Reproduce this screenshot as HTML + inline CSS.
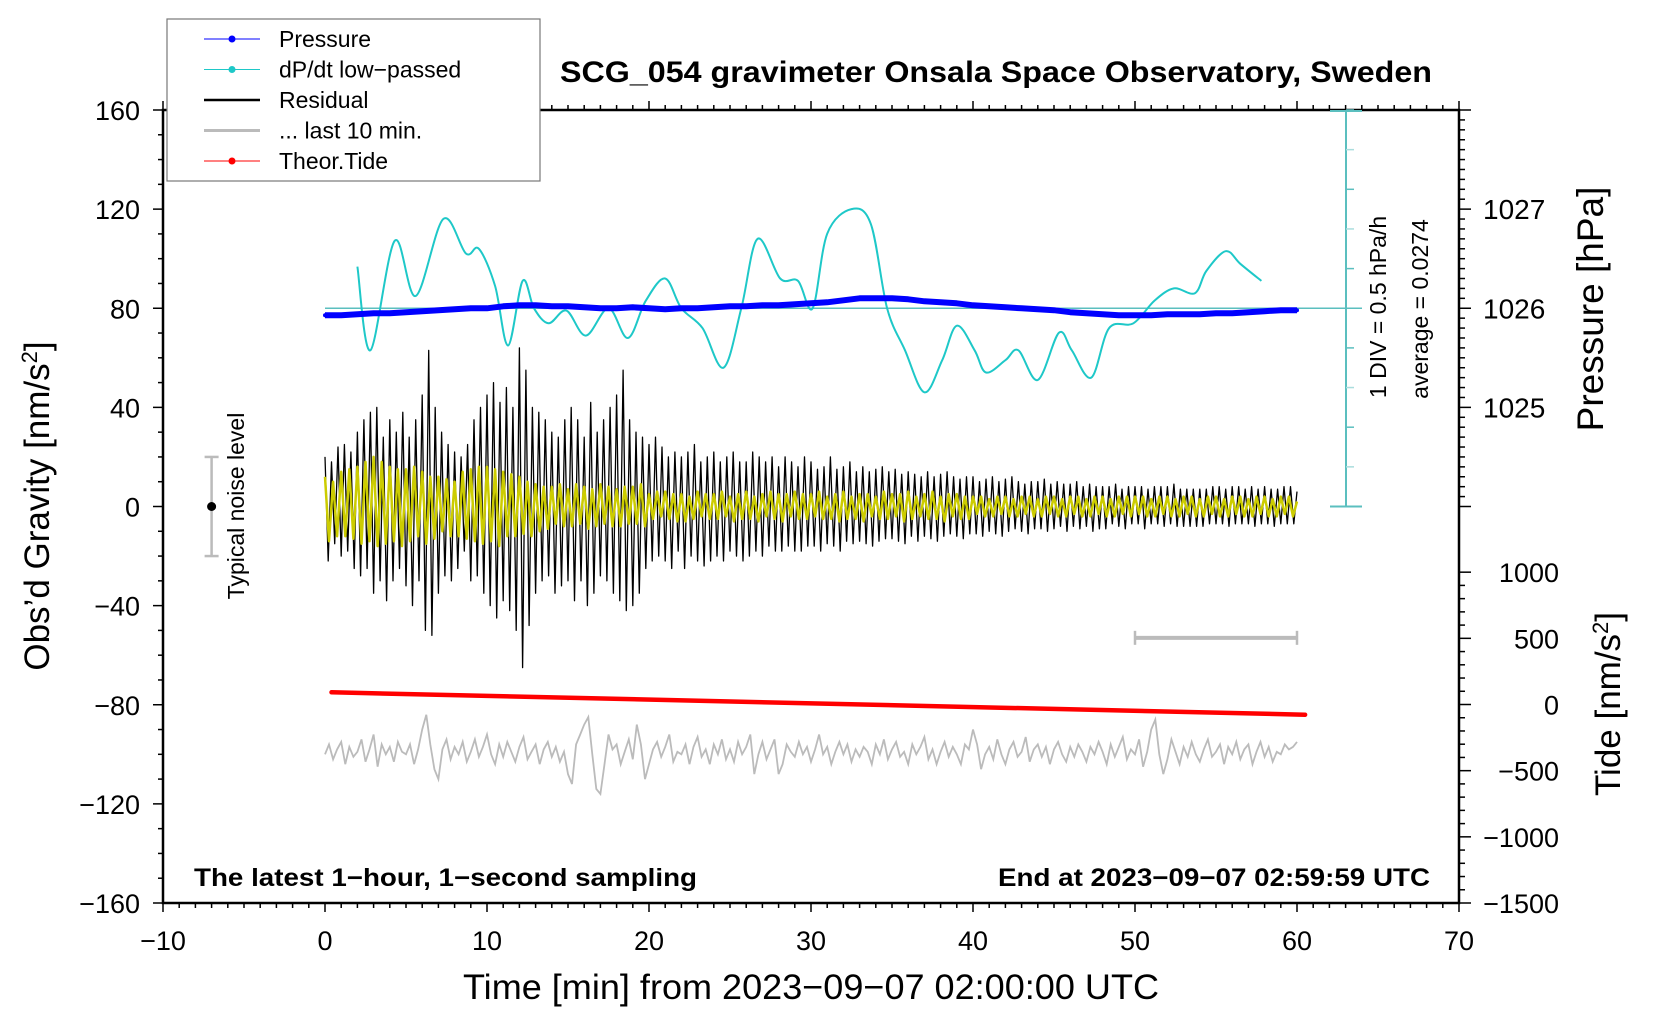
<!DOCTYPE html>
<html><head><meta charset="utf-8"><style>
html,body{margin:0;padding:0;background:#fff;}
svg{display:block;font-family:"Liberation Sans",Arial,sans-serif;}
</style></head><body>
<svg id="chart" width="1660" height="1020" viewBox="0 0 1660 1020" xmlns="http://www.w3.org/2000/svg">
<rect x="0" y="0" width="1660" height="1020" fill="#fff"/>
<g id="plot"></g>
</svg>
<script>
// ---- data ----
const residualStep = 0.2; // minutes
const residual = [
20,-22,18,-15,24, -20,25,-18,22,-25, 30,-28,35,-25,38, -35,40,-30,28,-38, 35,-30,30,-25,38,
-32,28,-40,35,-30, 45,-50,63,-52,40, -35,30,-28,25,-30, 22,-25,20,-18,25, -30,35,-28,40,-35,
45,-40,50,-45,42, -38,48,-42,40,-50, 64,-65,55,-48,40, -35,38,-30,35,-28, 30,-35,28,-32,35,
-30,40,-38,35,-30, 28,-40,42,-35,30, -28,35,-30,40,-35, 45,-38,55,-42,35, -40,30,-35,28,-25,
25,-22,28,-20,24, -22,20,-25,22,-18, 20,-25,22,-20,25, -22,18,-24,20,-22, 22,-20,18,-22,20,
-18,22,-20,18,-22, 18,-20,22,-18,20, -20,18,-16,20,-18, 16,-18,20,-16,18, -18,16,-18,20,-16,
18,-16,15,-18,16, -15,20,-16,15,-18, 16,-14,18,-15,14, -14,16,-15,14,-16, 15,-14,16,-13,14,
-13,15,-14,13,-15, 14,-12,13,-14,12, -12,14,-13,12,-14, 13,-12,14,-11,12, -12,11,-13,12,-11,
12,-11,10,-12,11, -10,12,-11,10,-12, 11,-10,12,-9,10, -10,9,-11,10,-9, 10,-9,11,-10,9,
-9,10,-8,9,-10, 9,-8,10,-9,8, -8,9,-10,8,-9, 8,-9,8,-7,9, -8,7,-9,8,-7,
8,-7,8,-9,7, -7,8,-7,8,-8, 8,-7,9,-8,7, -8,7,-8,7,-8, 7,-8,7,-7,8,
-7,8,-7,7,-8, 8,-7,8,-7,7, -7,8,-8,7,-7, 8,-7,7,-8,7, -7,8,-7,8,-7, 6];
const filteredStep = 0.25;
const filtered = [
12,-14,10,-12, 14,-12,15,-13, 16,-15,18,-14, 20,-16,18,-15, 16,-14,15,-16, 15,-14,16,-12,
14,-15,12,-13, 12,-10,11,-12, 10,-12,14,-13, 15,-14,16,-15, 16,-14,15,-16, 14,-12,13,-12,
12,-11,10,-12, 9,-10,8,-9, 8,-7,9,-8, 7,-8,9,-7, 8,-9,7,-8, 9,-7,8,-8, 7,-8,8,-7, 8,-7,9,-8,
5,-5,6,-4, 6,-5,5,-6, 5,-6,4,-5, 6,-4,5,-5, 5,-5,6,-4, 4,-6,5,-5, 6,-5,4,-6, 5,-4,6,-5, 5,-6,5,-4, 6,-5,5,-5,
5,-4,6,-5, 4,-5,5,-6, 6,-5,4,-5, 5,-6,5,-4, 4,-5,6,-5, 5,-4,5,-6, 6,-5,4,-4, 5,-5,6,-5, 4,-6,5,-4, 5,-5,4,-5,
4,-3,4,-4, 3,-4,4,-3, 4,-4,3,-4, 4,-3,4,-4, 3,-4,4,-3, 4,-4,3,-4, 4,-3,4,-4, 3,-4,4,-3, 4,-4,3,-4, 4,-3,4,-4,
4,-3,4,-4, 3,-4,4,-3, 4,-4,3,-4, 4,-3,4,-4, 3,-4,4,-3, 4,-4,3,-4, 4,-3,4,-4, 3,-4,4,-3, 4,-4,3,-4, 4,-3,4,-4, 2];
const last10Step = 0.25;
const last10 = [
-100,-96,-102,-98, -95,-104,-97,-101, -99,-94,-103,-98, -92,-105,-96,-100, -97,-103,-95,-99,
-100,-96,-104,-98, -90,-84,-96,-106, -110,-98,-94,-102, -97,-100,-95,-103, -99,-94,-101,-97,
-92,-100,-104,-96, -101,-95,-99,-103, -97,-93,-102,-99, -96,-104,-98,-95, -101,-97,-103,-99,
-108,-112,-96,-92, -88,-85,-100,-114, -116,-104,-92,-98, -96,-104,-99,-94, -102,-88,-96,-110,
-104,-98,-95,-101, -97,-92,-103,-99, -100,-96,-104,-97, -93,-101,-98,-104, -96,-100,-94,-102,
-98,-103,-95,-100, -97,-92,-108,-100, -95,-102,-98,-94, -108,-104,-96,-99, -101,-95,-100,-97,
-103,-98,-92,-100, -97,-104,-99,-95, -100,-96,-103,-98, -101,-97,-99,-104, -96,-100,-94,-102,
-98,-95,-101,-99, -104,-96,-100,-97, -93,-102,-98,-104, -99,-95,-101,-97, -100,-104,-96,-98,
-90,-96,-106,-100, -97,-102,-94,-100, -104,-98,-95,-101, -99,-93,-103,-98, -96,-101,-97,-104,
-98,-95,-100,-103, -97,-101,-96,-99, -103,-97,-100,-95, -99,-104,-96,-101, -97,-93,-102,-98,
-100,-94,-105,-99, -90,-86,-100,-108, -102,-94,-99,-104, -97,-101,-95,-100, -103,-98,-94,-101,
-99,-96,-104,-97, -100,-95,-102,-98, -96,-104,-99,-95, -101,-97,-103,-99, -100,-96,-98,-97, -95];
const pressureMin = [0,1,2,3,4,5,6,7,8,9,10,11,12,13,14,15,16,17,18,19,20,21,22,23,24,25,26,27,28,29,30,31,32,33,34,35,36,37,38,39,40,41,42,43,44,45,46,47,48,49,50,51,52,53,54,55,56,57,58,59,60];
const pressure = [1025.93,1025.93,1025.94,1025.95,1025.95,1025.96,1025.97,1025.98,1025.99,1026.0,1026.0,
1026.02,1026.03,1026.03,1026.02,1026.02,1026.01,1026.0,1026.0,1026.01,1026.0,
1025.99,1026.0,1026.0,1026.01,1026.02,1026.02,1026.03,1026.03,1026.04,1026.05,
1026.06,1026.08,1026.1,1026.1,1026.1,1026.09,1026.07,1026.06,1026.05,1026.03,
1026.02,1026.01,1026.0,1025.99,1025.98,1025.96,1025.95,1025.94,1025.93,1025.93,
1025.93,1025.94,1025.94,1025.94,1025.95,1025.95,1025.96,1025.97,1025.98,1025.98];
const dpdtMin = [2.0,2.8,4.3,5.6,7.3,8.7,9.5,10.5,11.3,12.2,12.9,13.8,14.9,16.1,17.5,18.7,19.8,21.0,22.0,23.3,24.6,25.7,26.7,28.1,29.2,30.1,31.0,32.5,33.7,34.7,35.8,37.0,38.1,39.0,40.1,40.8,42.0,42.8,44.0,45.3,46.1,47.3,48.4,49.9,51.2,52.4,53.7,54.4,55.6,56.5,57.8];
const dpdtDiv = [1.05,-1.06,1.70,0.31,2.25,1.38,1.50,0.56,-0.94,0.69,0,-0.38,-0.06,-0.69,0,-0.75,0.19,0.75,0,-0.5,-1.5,0,1.75,0.75,0.69,0,1.88,2.5,2.12,0,-1.06,-2.12,-1.31,-0.44,-1.06,-1.62,-1.31,-1.06,-1.81,-0.62,-1.06,-1.75,-0.5,-0.38,0.19,0.5,0.38,0.94,1.44,1.12,0.69];
const tideMin = [0.4, 60.5];
const tide = [92, -77];
const xTicks = [-10,0,10,20,30,40,50,60,70];
const yTicks = [-160,-120,-80,-40,0,40,80,120,160];
const pTicks = [1025,1026,1027];
const tTicks = [-1500,-1000,-500,0,500,1000];

// ---- axes ----
const L=163,R=1459,T=110,B=903;
const X = m => L + (m+10)/80*(R-L);
const Y = g => B - (g+160)/320*(B-T);
const YP = p => Y(80 + (p-1026)*40);
const YT = t => Y(-79.9 + t*0.0534);
const YD = d => Y(80 + d*16);
const NS="http://www.w3.org/2000/svg";
const plot=document.getElementById('plot');
function el(tag,attrs,parent){const e=document.createElementNS(NS,tag);for(const k in attrs)e.setAttribute(k,attrs[k]);(parent||plot).appendChild(e);return e;}
function txt(s,attrs){const e=el('text',attrs);e.textContent=s;return e;}
function pts(xs,ys,fx,fy){return ys.map((v,i)=>fx(xs(i)).toFixed(1)+','+fy(v).toFixed(1)).join(' ');}

let e=el('rect',{x:L,y:T,width:R-L,height:B-T,fill:'none',stroke:'#000','stroke-width':2.5});



for(let m=-10;m<=70;m++){
  const major=m%10===0;
  el('line',{x1:X(m),x2:X(m),y1:B,y2:B+(major?9:5),stroke:'#000','stroke-width':1.5});
  el('line',{x1:X(m),x2:X(m),y1:T,y2:T-(major?9:5),stroke:'#000','stroke-width':1.5});
}
xTicks.forEach(v=>{const t=txt(String(v).replace('-','\u2212'),{x:X(v),y:950,'font-size':27,'text-anchor':'middle'});

});
for(let g=-160;g<=160;g+=10){const major=g%40===0;el('line',{x1:L,x2:L-(major?10:5),y1:Y(g),y2:Y(g),stroke:'#000','stroke-width':1.5});}
yTicks.forEach(v=>{const t=txt(String(v).replace('-','\u2212'),{x:140,y:Y(v)+10,'font-size':27,'text-anchor':'end'});

});
for(let p=1024;p<=1028.01;p+=0.1){const y=YP(p);if(y<T-1||y>507)continue;const major=Math.abs(p-Math.round(p))<0.01;el('line',{x1:R,x2:R+(major?12:6),y1:y,y2:y,stroke:'#000','stroke-width':1.5});}
pTicks.forEach(v=>{const t=txt(String(v),{x:1483,y:YP(v)+10,'font-size':28});

});
for(let t=-1500;t<=1000;t+=100){const major=t%500===0;el('line',{x1:R,x2:R+(major?12:6),y1:YT(t),y2:YT(t),stroke:'#000','stroke-width':1.5});}
tTicks.forEach(v=>{const t=txt(String(v).replace('-','\u2212'),{x:1559,y:YT(v)+10,'font-size':27,'text-anchor':'end'});

});

e=txt('SCG_054 gravimeter Onsala Space Observatory, Sweden',{x:560,y:82,'font-size':30,'font-weight':'bold',textLength:872,lengthAdjust:'spacingAndGlyphs'});

e=txt('Time [min] from 2023\u221209\u221207 02:00:00 UTC',{x:463,y:999,'font-size':35,textLength:696,lengthAdjust:'spacingAndGlyphs'});

e=el('text',{transform:'translate(49,506) rotate(-90)','font-size':35,'text-anchor':'middle'});
e.innerHTML='Obs\u2019d Gravity [nm/s<tspan dy="-12" font-size="22">2</tspan><tspan dy="12">]</tspan>';

e=el('text',{transform:'translate(1603,309) rotate(-90)','font-size':37,'text-anchor':'middle'});e.textContent='Pressure [hPa]';

e=el('text',{transform:'translate(1620,704) rotate(-90)','font-size':35,'text-anchor':'middle'});
e.innerHTML='Tide [nm/s<tspan dy="-12" font-size="22">2</tspan><tspan dy="12">]</tspan>';

e=txt('The latest 1\u2212hour, 1\u2212second sampling',{x:194,y:886,'font-size':25,'font-weight':'bold',textLength:503,lengthAdjust:'spacingAndGlyphs'});

e=txt('End at 2023\u221209\u221207 02:59:59 UTC',{x:998,y:886,'font-size':25,'font-weight':'bold',textLength:432,lengthAdjust:'spacingAndGlyphs'});

e=el('text',{transform:'translate(1386,307) rotate(-90)','font-size':23,'text-anchor':'middle'});e.textContent='1 DIV = 0.5 hPa/h';

e=el('text',{transform:'translate(1428,309) rotate(-90)','font-size':23,'text-anchor':'middle'});e.textContent='average = 0.0274';

e=el('text',{transform:'translate(244,506) rotate(-90)','font-size':23,'text-anchor':'middle'});e.textContent='Typical noise level';


e=el('g',{});
el('line',{x1:X(-7),x2:X(-7),y1:Y(-20),y2:Y(20),stroke:'#bbb','stroke-width':2.5},e);
el('line',{x1:X(-7)-7,x2:X(-7)+7,y1:Y(20),y2:Y(20),stroke:'#bbb','stroke-width':2.5},e);
el('line',{x1:X(-7)-7,x2:X(-7)+7,y1:Y(-20),y2:Y(-20),stroke:'#bbb','stroke-width':2.5},e);
el('circle',{cx:X(-7),cy:Y(0),r:4.5,fill:'#000'},e);

e=el('g',{});
el('line',{x1:1346,x2:1346,y1:T,y2:Y(0),stroke:'#5bbfbf','stroke-width':2},e);
for(let k=-5;k<=5;k++){el('line',{x1:1346,x2:1354,y1:YD(k),y2:YD(k),stroke:k%2?'#5bbfbf':'#aadddd','stroke-width':1.5},e);}
el('line',{x1:1330,x2:1362,y1:T+1,y2:T+1,stroke:'#5bbfbf','stroke-width':2},e);
el('line',{x1:1330,x2:1362,y1:Y(0),y2:Y(0),stroke:'#5bbfbf','stroke-width':2},e);
el('line',{x1:X(0),x2:1362,y1:YD(0),y2:YD(0),stroke:'#5bbfbf','stroke-width':1.5},e);

function smooth(xs,ys){let p=xs.map((x,i)=>[x,ys[i]]);let d='M'+p[0][0]+','+p[0][1];
for(let i=0;i<p.length-1;i++){const p0=p[i-1]||p[i],p1=p[i],p2=p[i+1],p3=p[i+2]||p2;
d+=' C'+(p1[0]+(p2[0]-p0[0])/6).toFixed(1)+','+(p1[1]+(p2[1]-p0[1])/6).toFixed(1)+' '+(p2[0]-(p3[0]-p1[0])/6).toFixed(1)+','+(p2[1]-(p3[1]-p1[1])/6).toFixed(1)+' '+p2[0].toFixed(1)+','+p2[1].toFixed(1);}return d;}
e=el('path',{d:smooth(dpdtMin.map(X),dpdtDiv.map(YD)),fill:'none',stroke:'#1ec8c8','stroke-width':2});


e=el('polyline',{points:pts(i=>pressureMin[i],pressure,X,YP),fill:'none',stroke:'#0000ff','stroke-width':6,'stroke-linejoin':'round'});

pressure.forEach((p,i)=>{const c=el('circle',{cx:X(pressureMin[i]),cy:YP(p),r:2,fill:'#0000ff'});

});

e=el('polyline',{points:pts(i=>i*residualStep,residual,X,Y),fill:'none',stroke:'#000','stroke-width':1.3,'stroke-linejoin':'round'});

e=el('polyline',{points:pts(i=>i*filteredStep,filtered,X,Y),fill:'none',stroke:'#cccc00','stroke-width':2.5,'stroke-linejoin':'round'});


e=el('polyline',{points:pts(i=>tideMin[i],tide,X,YT),fill:'none',stroke:'#ff0000','stroke-width':4.5,'stroke-linecap':'round'});


e=el('polyline',{points:pts(i=>i*last10Step,last10,X,Y),fill:'none',stroke:'#bbb','stroke-width':1.8});

e=el('g',{});
el('line',{x1:X(50),x2:X(60),y1:Y(-53),y2:Y(-53),stroke:'#bbb','stroke-width':4},e);
el('line',{x1:X(50),x2:X(50),y1:Y(-53)-7,y2:Y(-53)+7,stroke:'#bbb','stroke-width':2.5},e);
el('line',{x1:X(60),x2:X(60),y1:Y(-53)-7,y2:Y(-53)+7,stroke:'#bbb','stroke-width':2.5},e);

const lg=el('g',{});
el('rect',{x:167,y:19,width:373,height:162,fill:'#fff',stroke:'#777','stroke-width':1.2},lg);
const legendNames=['Pressure','dP/dt low\u2212passed','Residual','... last 10 min.','Theor.Tide'];
const legendCols=['#0000ff','#1ec8c8','#000','#bbb','#ff0000'];
legendNames.forEach((n,i)=>{const y=39+i*30.5;const g=el('g',{},lg);


const dotted=(i===0||i===1||i===4);
el('line',{x1:204,x2:260,y1:y,y2:y,stroke:legendCols[i],'stroke-width':dotted?1:(i===3?3:2.5)},g);
if(dotted)el('circle',{cx:232,cy:y,r:3.5,fill:legendCols[i]},g);
const t=el('text',{x:279,y:y+8,'font-size':23},g);t.textContent=n;});
</script>
</body></html>
